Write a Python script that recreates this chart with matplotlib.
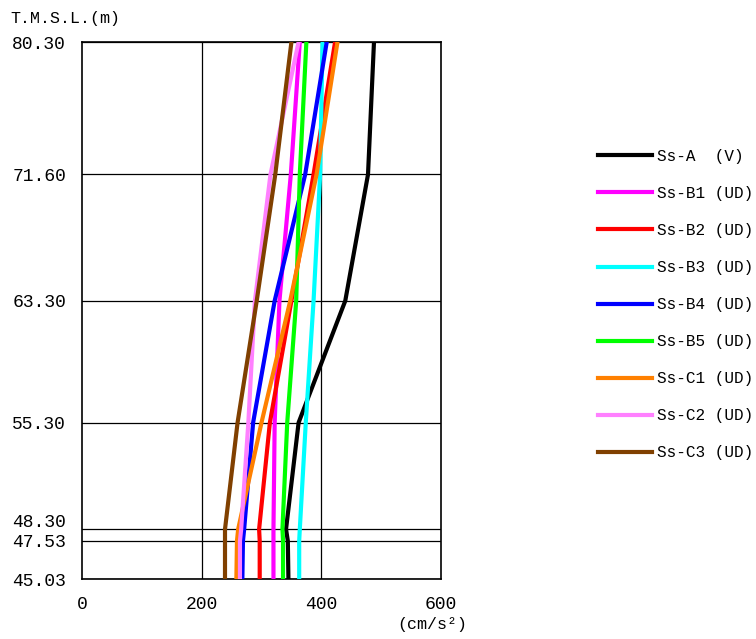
import numpy as np
import matplotlib
matplotlib.use("Agg")
import matplotlib.pyplot as plt
from matplotlib.transforms import ScaledTranslation

plt.rcParams['font.family'] = ['Liberation Mono', 'DejaVu Sans']

# elevations (T.M.S.L., m)
elev = [80.30, 71.60, 63.30, 55.30, 48.30, 47.53, 45.03]
elev_labels = ["80.30", "71.60", "63.30", "55.30", "48.30", "47.53", "45.03"]

# max acceleration (cm/s2) at each elevation
ss_a = [488, 478, 440, 362, 341, 344, 345]
ss_b1 = [364, 349, 330, 322, 320, 320, 320]
ss_b2 = [423, 387, 350, 314, 296, 297, 297]
ss_b3 = [402, 398, 387, 374, 364, 363, 363]
ss_b4 = [409, 373, 322, 286, 271, 269, 268]
ss_b5 = [375, 364, 358, 343, 335, 336, 336]
ss_c1 = [427, 392, 348, 300, 261, 259, 258]
ss_c2 = [362, 315, 289, 278, 266, 264, 264]
ss_c3 = [350, 323, 292, 260, 239, 239, 239]

names = ["Ss-A  (V)", "Ss-B1 (UD)", "Ss-B2 (UD)", "Ss-B3 (UD)", "Ss-B4 (UD)",
         "Ss-B5 (UD)", "Ss-C1 (UD)", "Ss-C2 (UD)", "Ss-C3 (UD)"]
series = [ss_a, ss_b1, ss_b2, ss_b3, ss_b4, ss_b5, ss_c1, ss_c2, ss_c3]
colors = ["#000000", "#FF00FF", "#FF0000", "#00FFFF", "#0000FF",
          "#00FF00", "#FF8000", "#FF80FF", "#804000"]

fig = plt.figure(figsize=(7.56, 6.39), dpi=100)
ax = fig.add_axes([82/756, 60/639, 359/756, 537/639])

# grid
for e in elev:
    ax.axhline(e, color="black", lw=0.9, zorder=1)
for v in [200, 400]:
    ax.axvline(v, color="black", lw=0.9, zorder=1)

for vals, c, n in zip(series, colors, names):
    ax.plot(vals, elev, color=c, lw=3, label=n, zorder=3)

ax.set_xlim(0, 600)
ax.set_ylim(45.03, 80.30)
ax.set_xticks([0, 200, 400, 600])
ax.set_yticks(elev)
ax.set_yticklabels(elev_labels)
ax.tick_params(axis="both", length=0, labelsize=13)
ax.tick_params(axis="y", pad=11.5)
ax.tick_params(axis="x", pad=12)
for s in ax.spines.values():
    s.set_linewidth(1.2)

# nudge 48.30 label up so it doesn't collide with 47.53
fig.canvas.draw()
for lab in ax.get_yticklabels():
    if lab.get_text() == "48.30":
        lab.set_transform(lab.get_transform() + ScaledTranslation(0, 0.09, fig.dpi_scale_trans))

fig.text(10/756, 1 - 18/639, "T.M.S.L.(m)", fontsize=12, va="center", ha="left")
fig.text(432/756, 1 - 624/639, "(cm/s²)", fontsize=12, va="center", ha="center")

fig.legend(loc="upper left", bbox_to_anchor=(598/756, 1 - 149/639),
           bbox_transform=fig.transFigure, frameon=False, fontsize=11.5,
           handlelength=3.4, handletextpad=0.3, labelspacing=1.38, borderpad=0,
           borderaxespad=0)

fig.savefig("out.png", dpi=100)
